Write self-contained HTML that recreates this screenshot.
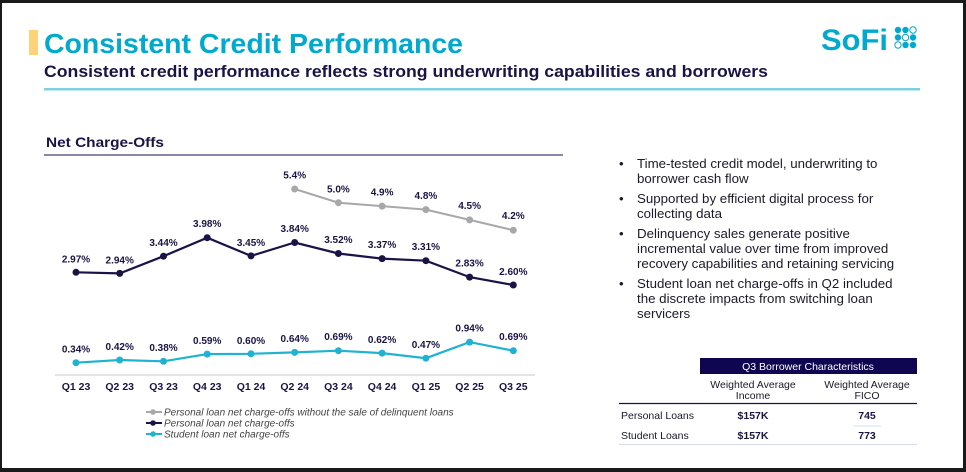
<!DOCTYPE html>
<html><head><meta charset="utf-8"><style>
html,body{margin:0;padding:0;background:#000;}
svg{display:block;font-family:"Liberation Sans",sans-serif;}
</style></head><body>
<svg width="966" height="472" viewBox="0 0 966 472" xmlns="http://www.w3.org/2000/svg">
<rect x="0" y="0" width="966" height="472" fill="#1a1a1a"/>
<rect x="2" y="3" width="961" height="465" fill="#fff"/>
<rect x="29" y="30" width="9" height="25" fill="#fcd27a"/>
<text x="44" y="53" font-size="28" font-weight="bold" fill="#00a9ce" textLength="419" lengthAdjust="spacingAndGlyphs">Consistent Credit Performance</text>
<text x="44" y="77" font-size="16.5" font-weight="bold" fill="#1a1446" textLength="724" lengthAdjust="spacingAndGlyphs">Consistent credit performance reflects strong underwriting capabilities and borrowers</text>
<rect x="44" y="88" width="876" height="2.5" fill="#7fd0e0"/>
<text x="821" y="50" font-size="30" font-weight="bold" fill="#00a9ce" textLength="67" lengthAdjust="spacingAndGlyphs">SoFi</text>
<g fill="#00a9ce">
<circle cx="898" cy="30" r="3.2"/><circle cx="905.5" cy="30" r="3.2"/><circle cx="913" cy="30" r="3.2" fill="#fff" stroke="#00a9ce" stroke-width="1"/>
<circle cx="898" cy="37.5" r="3.2"/><circle cx="905.5" cy="37.5" r="3.2" fill="#fff" stroke="#00a9ce" stroke-width="1"/><circle cx="913" cy="37.5" r="3.2"/>
<circle cx="898" cy="45" r="3.2" fill="#fff" stroke="#00a9ce" stroke-width="1"/><circle cx="905.5" cy="45" r="3.2"/><circle cx="913" cy="45" r="3.2"/>
</g>
<text x="46" y="147" font-size="14" font-weight="bold" fill="#1a1446" textLength="118" lengthAdjust="spacingAndGlyphs">Net Charge-Offs</text>
<rect x="44" y="154" width="519" height="2" fill="#8a87a8"/>

<line x1="55" y1="375" x2="535" y2="375" stroke="#c8c8c8" stroke-width="1"/>
<g font-size="10.5" font-weight="bold" fill="#1a1446" text-anchor="middle">
<text x="76" y="390">Q1 23</text><text x="119.7" y="390">Q2 23</text><text x="163.5" y="390">Q3 23</text><text x="207.2" y="390">Q4 23</text><text x="251" y="390">Q1 24</text><text x="294.7" y="390">Q2 24</text><text x="338.4" y="390">Q3 24</text><text x="382.1" y="390">Q4 24</text><text x="425.9" y="390">Q1 25</text><text x="469.6" y="390">Q2 25</text><text x="513.3" y="390">Q3 25</text>
</g>

<polyline fill="none" stroke="#a8a8a8" stroke-width="2" points="294.7,189 338.4,202.7 382.1,206.1 425.9,209.6 469.6,219.9 513.3,230.2"/>
<g fill="#a8a8a8"><circle cx="294.7" cy="189" r="3.5"/><circle cx="338.4" cy="202.7" r="3.5"/><circle cx="382.1" cy="206.1" r="3.5"/><circle cx="425.9" cy="209.6" r="3.5"/><circle cx="469.6" cy="219.9" r="3.5"/><circle cx="513.3" cy="230.2" r="3.5"/></g>

<polyline fill="none" stroke="#1a1446" stroke-width="2.2" points="76,272.3 119.7,273.4 163.5,256.2 207.2,237.7 251,255.9 294.7,242.5 338.4,253.5 382.1,258.6 425.9,260.7 469.6,277.1 513.3,285"/>
<g fill="#1a1446"><circle cx="76" cy="272.3" r="3.5"/><circle cx="119.7" cy="273.4" r="3.5"/><circle cx="163.5" cy="256.2" r="3.5"/><circle cx="207.2" cy="237.7" r="3.5"/><circle cx="251" cy="255.9" r="3.5"/><circle cx="294.7" cy="242.5" r="3.5"/><circle cx="338.4" cy="253.5" r="3.5"/><circle cx="382.1" cy="258.6" r="3.5"/><circle cx="425.9" cy="260.7" r="3.5"/><circle cx="469.6" cy="277.1" r="3.5"/><circle cx="513.3" cy="285" r="3.5"/></g>

<polyline fill="none" stroke="#1fb3d1" stroke-width="2.2" points="76,362.7 119.7,360 163.5,361.3 207.2,354.1 251,353.8 294.7,352.4 338.4,350.7 382.1,353.1 425.9,358.2 469.6,342.1 513.3,350.7"/>
<g fill="#1fb3d1"><circle cx="76" cy="362.7" r="3.5"/><circle cx="119.7" cy="360" r="3.5"/><circle cx="163.5" cy="361.3" r="3.5"/><circle cx="207.2" cy="354.1" r="3.5"/><circle cx="251" cy="353.8" r="3.5"/><circle cx="294.7" cy="352.4" r="3.5"/><circle cx="338.4" cy="350.7" r="3.5"/><circle cx="382.1" cy="353.1" r="3.5"/><circle cx="425.9" cy="358.2" r="3.5"/><circle cx="469.6" cy="342.1" r="3.5"/><circle cx="513.3" cy="350.7" r="3.5"/></g>

<g font-size="10" font-weight="bold" fill="#1a1446" text-anchor="middle">
<text x="294.7" y="178.5">5.4%</text><text x="338.4" y="192.5">5.0%</text><text x="382.1" y="195.5">4.9%</text><text x="425.9" y="199">4.8%</text><text x="469.6" y="209">4.5%</text><text x="513.3" y="219">4.2%</text>
<text x="76" y="262.5">2.97%</text><text x="119.7" y="263.5">2.94%</text><text x="163.5" y="246">3.44%</text><text x="207.2" y="227">3.98%</text><text x="251" y="246">3.45%</text><text x="294.7" y="232">3.84%</text><text x="338.4" y="243">3.52%</text><text x="382.1" y="248">3.37%</text><text x="425.9" y="250">3.31%</text><text x="469.6" y="266.5">2.83%</text><text x="513.3" y="275">2.60%</text>
<text x="76" y="352.5">0.34%</text><text x="119.7" y="350">0.42%</text><text x="163.5" y="351">0.38%</text><text x="207.2" y="344">0.59%</text><text x="251" y="344">0.60%</text><text x="294.7" y="342">0.64%</text><text x="338.4" y="340">0.69%</text><text x="382.1" y="343">0.62%</text><text x="425.9" y="348">0.47%</text><text x="469.6" y="331.5">0.94%</text><text x="513.3" y="340">0.69%</text>
</g>

<g font-size="10" font-style="italic" fill="#444">
<line x1="146" y1="412" x2="162" y2="412" stroke="#a8a8a8" stroke-width="2"/><circle cx="153" cy="412" r="2.8" fill="#a8a8a8"/>
<text x="164" y="415.5">Personal loan net charge-offs without the sale of delinquent loans</text>
<line x1="146" y1="423" x2="162" y2="423" stroke="#1a1446" stroke-width="2"/><circle cx="153" cy="423" r="2.8" fill="#1a1446"/>
<text x="164" y="426.5">Personal loan net charge-offs</text>
<line x1="146" y1="434" x2="162" y2="434" stroke="#1fb3d1" stroke-width="2"/><circle cx="153" cy="434" r="2.8" fill="#1fb3d1"/>
<text x="164" y="437.5">Student loan net charge-offs</text>
</g>

<g font-size="13.3" fill="#1a1a2a">
<text x="619" y="168">•</text><text x="637" y="168">Time-tested credit model, underwriting to</text>
<text x="637" y="183">borrower cash flow</text>
<text x="619" y="203">•</text><text x="637" y="203">Supported by efficient digital process for</text>
<text x="637" y="218">collecting data</text>
<text x="619" y="238">•</text><text x="637" y="238">Delinquency sales generate positive</text>
<text x="637" y="253">incremental value over time from improved</text>
<text x="637" y="268">recovery capabilities and retaining servicing</text>
<text x="619" y="288">•</text><text x="637" y="288">Student loan net charge-offs in Q2 included</text>
<text x="637" y="303">the discrete impacts from switching loan</text>
<text x="637" y="318">servicers</text>
</g>

<rect x="700" y="358" width="217" height="16" fill="#0e0650"/>
<text x="808" y="370" font-size="10.5" fill="#fff" text-anchor="middle">Q3 Borrower Characteristics</text>
<g font-size="10.5" fill="#1a1a2a" text-anchor="middle">
<text x="753" y="388">Weighted Average</text><text x="753" y="399">Income</text>
<text x="867" y="388">Weighted Average</text><text x="867" y="399">FICO</text>
</g>
<line x1="619" y1="403.5" x2="917" y2="403.5" stroke="#1a1446" stroke-width="1.2"/>
<g font-size="10.5" fill="#1a1a2a">
<text x="621" y="419">Personal Loans</text><text x="621" y="439">Student Loans</text>
</g>
<g font-size="10.5" font-weight="bold" fill="#1a1446" text-anchor="middle">
<text x="753" y="419">$157K</text><text x="867" y="419">745</text>
<text x="753" y="439">$157K</text><text x="867" y="439">773</text>
</g>
<line x1="853" y1="426" x2="881" y2="426" stroke="#cfe3ef" stroke-width="1"/>
<line x1="619" y1="444.5" x2="917" y2="444.5" stroke="#d8dbe6" stroke-width="1"/>
</svg>
</body></html>
